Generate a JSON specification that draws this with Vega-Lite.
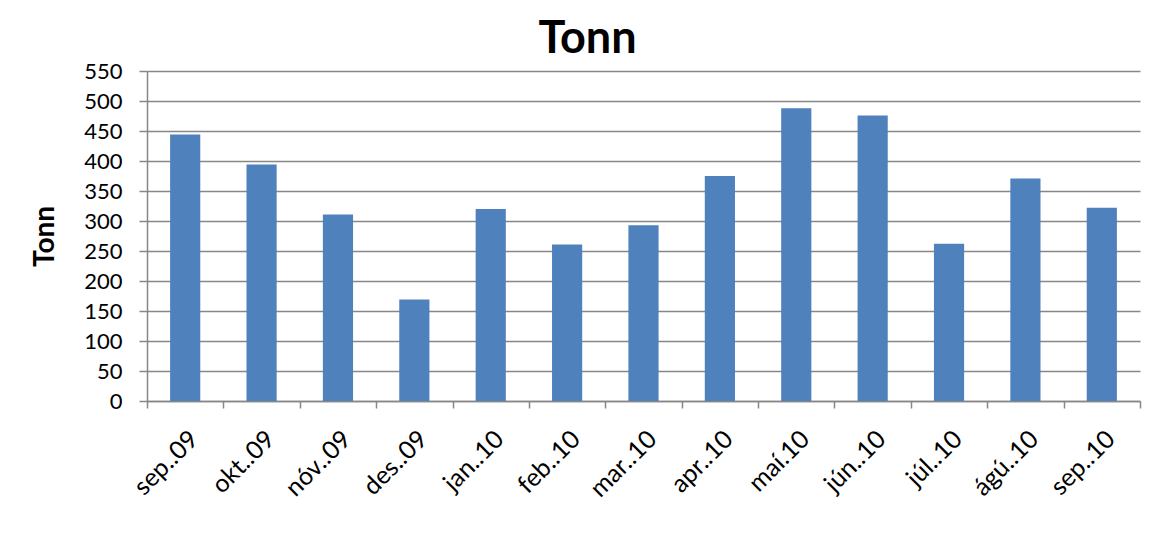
{
  "$schema": "https://vega.github.io/schema/vega-lite/v6.json",
  "width": 993,
  "height": 330,
  "autosize": {"type": "none"},
  "padding": {"left": 147, "top": 71, "right": 21, "bottom": 132},
  "background": "white",
  "title": {
    "text": "Tonn",
    "font": "Lato",
    "fontSize": 45,
    "fontWeight": "bold",
    "color": "black",
    "offset": -2,
    "dx": -56
  },
  "data": {
    "values": [
      {"month": "sep..09", "tonn": 444},
      {"month": "okt..09", "tonn": 394},
      {"month": "nóv..09", "tonn": 311},
      {"month": "des..09", "tonn": 169},
      {"month": "jan..10", "tonn": 320},
      {"month": "feb..10", "tonn": 261},
      {"month": "mar..10", "tonn": 293},
      {"month": "apr..10", "tonn": 375},
      {"month": "maí.10", "tonn": 488},
      {"month": "jún..10", "tonn": 476},
      {"month": "júl..10", "tonn": 262},
      {"month": "ágú..10", "tonn": 371},
      {"month": "sep..10", "tonn": 322}
    ]
  },
  "mark": {"type": "bar", "color": "#4F81BD", "width": {"band": 0.395}},
  "encoding": {
    "x": {
      "field": "month",
      "type": "nominal",
      "sort": null,
      "scale": {"paddingInner": 0, "paddingOuter": 0},
      "axis": {
        "title": null,
        "labelAngle": -45,
        "labelAlign": "right",
        "labelBaseline": "top",
        "labelFont": "Lato",
        "labelFontSize": 25,
        "labelColor": "black",
        "labelPadding": 18,
        "tickBand": "extent",
        "tickColor": "#878787",
        "tickSize": 7,
        "tickWidth": 1.5,
        "domainColor": "#878787",
        "domainWidth": 1.5
      }
    },
    "y": {
      "field": "tonn",
      "type": "quantitative",
      "scale": {"domain": [0, 550], "nice": false},
      "axis": {
        "title": "Tonn",
        "titleFont": "Lato",
        "titleFontSize": 28,
        "titleFontWeight": "bold",
        "titleColor": "black",
        "titlePadding": 24,
        "values": [0, 50, 100, 150, 200, 250, 300, 350, 400, 450, 500, 550],
        "labelFont": "Lato",
        "labelFontSize": 22,
        "labelColor": "black",
        "labelPadding": 17,
        "tickColor": "#878787",
        "tickSize": 8,
        "tickWidth": 1.5,
        "domainColor": "#878787",
        "domainWidth": 1.5,
        "grid": true,
        "gridColor": "#878787",
        "gridWidth": 1.5
      }
    }
  },
  "config": {"view": {"stroke": null}}
}
